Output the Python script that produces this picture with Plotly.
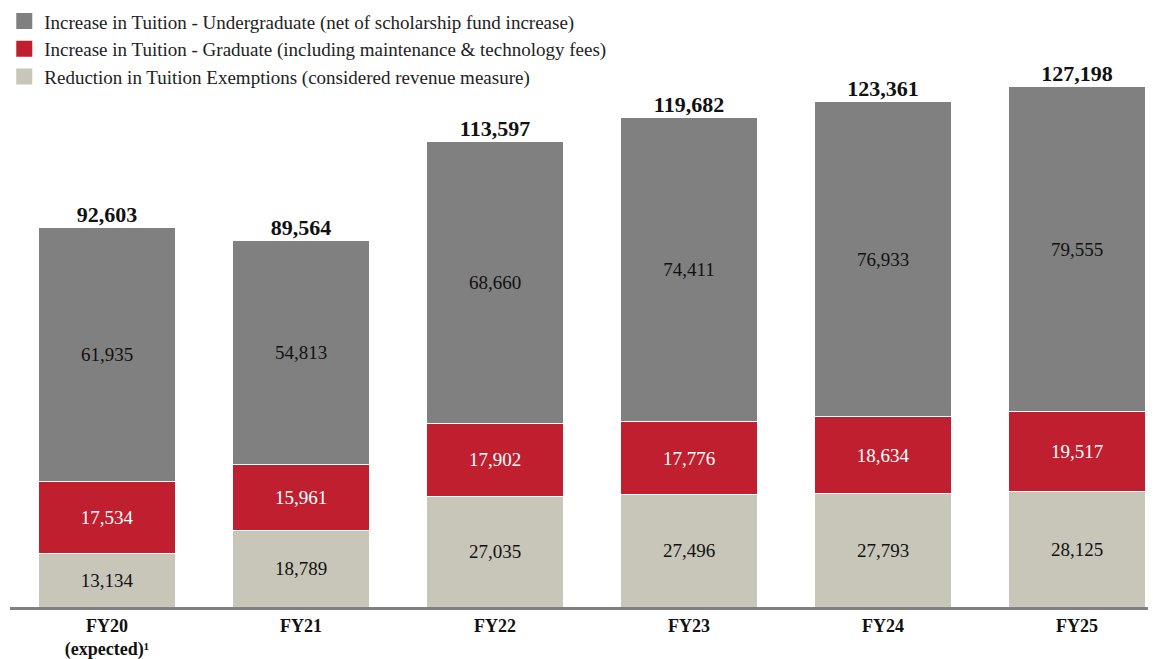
import plotly.graph_objects as go

categories = ["FY20<br>(expected)¹", "FY21", "FY22", "FY23", "FY24", "FY25"]
undergrad = [61935, 54813, 68660, 74411, 76933, 79555]
graduate = [17534, 15961, 17902, 17776, 18634, 19517]
exemptions = [13134, 18789, 27035, 27496, 27793, 28125]
totals = [92603, 89564, 113597, 119682, 123361, 127198]

names = [
    "Reduction in Tuition Exemptions (considered revenue measure)",
    "Increase in Tuition - Graduate (including maintenance & technology fees)",
    "Increase in Tuition - Undergraduate (net of scholarship fund increase)",
]
colors = ["#C8C6B9", "#C01F2F", "#808080"]
textcolors = ["#111111", "#FFFFFF", "#111111"]
series = [exemptions, graduate, undergrad]

FONT = "Liberation Serif"
x = list(range(len(categories)))

fig = go.Figure()
for name, vals, col, tc in zip(names, series, colors, textcolors):
    fig.add_trace(go.Bar(
        x=x, y=vals, name=name, showlegend=False, legendgroup=name,
        marker=dict(color=col, line=dict(color="white", width=1)),
        width=0.71,
        text=vals, texttemplate="%{y:,}", textposition="inside",
        insidetextanchor="middle", textangle=0,
        textfont=dict(family=FONT, size=19, color=tc),
        hoverinfo="skip",
    ))

# legend entries with large square swatches
for name, col in zip(names, colors):
    fig.add_trace(go.Scatter(
        x=[None], y=[None], mode="markers", name=name, legendgroup=name,
        marker=dict(symbol="square", size=18, color=col),
        showlegend=True,
    ))

fig.add_trace(go.Scatter(
    x=x, y=totals, mode="text",
    text=[f"<b>{v:,}</b>" for v in totals],
    textposition="top center",
    textfont=dict(family=FONT, size=22, color="#111111"),
    showlegend=False, cliponaxis=False, hoverinfo="skip",
))

fig.update_layout(
    width=1148, height=651,
    margin=dict(l=2, r=0, t=2, b=52, autoexpand=False),
    barmode="stack",
    plot_bgcolor="white", paper_bgcolor="white",
    font=dict(family=FONT, color="#111111"),
    legend=dict(
        x=-0.005, y=1.013, xanchor="left", yanchor="top",
        traceorder="reversed",
        font=dict(family=FONT, size=19, color="#222222"),
        itemsizing="trace", itemwidth=30,
        bgcolor="rgba(0,0,0,0)",
        tracegroupgap=0,
    ),
    xaxis=dict(
        tickmode="array", tickvals=x,
        ticktext=[f"<b>{c}</b>" for c in categories],
        range=[-0.5, 5.407],
        showline=True, linecolor="#808080", linewidth=3,
        ticks="", showgrid=False, zeroline=False, automargin=False,
        ticklabelstandoff=0,
        tickfont=dict(family=FONT, size=18, color="#111111"),
        fixedrange=True,
    ),
    yaxis=dict(
        range=[0, 145823], visible=False, showgrid=False, zeroline=False,
        fixedrange=True,
    ),
    showlegend=True,
)

fig.write_html("out.html")
